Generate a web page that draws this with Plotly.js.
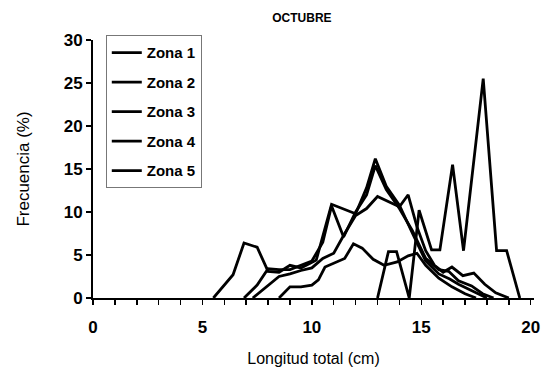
<!DOCTYPE html>
<html>
<head>
<meta charset="utf-8">
<script src="https://cdn.plot.ly/plotly-3.0.1.min.js"></script>
<style>html,body{margin:0;padding:0;background:#fff;}#chart{width:548px;height:382px;}</style>
</head>
<body>
<div id="chart"></div>
<script>
// Longitud total (cm) vs Frecuencia (%) — OCTUBRE
const zona1X = [5.5, 6.4, 6.9, 7.5, 8.0, 8.5, 9.0, 9.5, 9.9, 10.2, 10.9, 11.5, 12.0, 12.5, 12.9, 13.4, 14.0, 14.6, 15.2, 15.8, 16.3, 16.7, 17.2, 17.6, 18.0];
const zona1Y = [0, 2.7, 6.4, 5.9, 3.1, 3.0, 3.8, 3.5, 4.0, 4.4, 10.9, 10.3, 9.8, 12.8, 16.2, 13.0, 10.8, 7.5, 4.3, 2.8, 2.2, 1.6, 1.0, 0.5, 0];

const zona2X = [6.9, 7.5, 8.0, 8.5, 9.0, 9.5, 10.0, 10.5, 10.9, 11.45, 12.0, 12.5, 12.9, 13.4, 14.0, 14.6, 15.2, 15.8, 16.25, 16.7, 17.3, 17.8, 18.3];
const zona2Y = [0, 1.5, 3.4, 3.3, 3.3, 3.8, 4.3, 6.5, 10.7, 7.1, 10.0, 12.0, 15.4, 12.6, 10.4, 7.8, 4.6, 3.3, 3.1, 2.0, 1.4, 0.5, 0];

const zona3X = [7.3, 8.0, 8.5, 9.0, 9.5, 10.0, 10.5, 11.0, 11.5, 12.0, 12.5, 13.0, 13.5, 14.0, 14.4, 14.8, 15.2, 15.6, 16.0, 16.4, 16.9, 17.4, 17.9, 18.4, 19.0];
const zona3Y = [0, 1.5, 2.5, 2.8, 3.2, 3.5, 4.6, 5.2, 7.5, 9.6, 10.4, 11.8, 11.2, 10.6, 12.0, 8.3, 5.5, 3.8, 3.0, 3.6, 2.6, 2.9, 1.6, 0.6, 0];

const zona4X = [8.5, 9.0, 9.5, 10.0, 10.3, 10.6, 11.5, 11.9, 12.3, 12.8, 13.3, 13.9, 14.4, 14.8, 15.2, 15.8, 16.4, 17.0, 17.5];
const zona4Y = [0, 1.3, 1.3, 1.5, 2.1, 3.6, 4.6, 6.3, 5.8, 4.5, 3.8, 4.2, 4.9, 5.2, 3.8, 2.3, 1.3, 0.5, 0];

const zona5X = [13.0, 13.5, 13.87, 14.45, 14.9, 15.47, 15.85, 16.43, 16.93, 17.83, 18.44, 18.9, 19.5];
const zona5Y = [0, 5.4, 5.4, 0, 10.2, 5.6, 5.6, 15.5, 5.5, 25.5, 5.5, 5.5, 0];

const seriesNames = ['Zona 1', 'Zona 2', 'Zona 3', 'Zona 4', 'Zona 5'];
const seriesX = [zona1X, zona2X, zona3X, zona4X, zona5X];
const seriesY = [zona1Y, zona2Y, zona3Y, zona4Y, zona5Y];

const xTickVals = [0,1,2,3,4,5,6,7,8,9,10,11,12,13,14,15,16,17,18,19,20];
const xTickText = ['0','','','','','5','','','','','10','','','','','15','','','','','20'];
const yTickVals = [0, 5, 10, 15, 20, 25, 30];
const yTickText = ['0', '5', '10', '15', '20', '25', '30'];

const FONT = 'Liberation Sans, Arial, sans-serif';

const traces = seriesNames.map((name, i) => ({
  type: 'scatter',
  mode: 'lines',
  name: name,
  x: seriesX[i],
  y: seriesY[i],
  legendgroup: 'g' + i,
  line: {color: '#000', width: 2.8},
  hoverinfo: 'skip'
}));

const layout = {
  width: 548,
  height: 382,
  paper_bgcolor: '#fff',
  plot_bgcolor: '#fff',
  margin: {l: 93, r: 14, t: 40, b: 84},
  title: {
    text: 'OCTUBRE',
    font: {family: FONT, size: 12, color: '#000', weight: 'bold'},
    x: 0.551, xref: 'container', xanchor: 'center',
    y: 0.953, yref: 'container', yanchor: 'middle'
  },
  showlegend: true,
  legend: {
    x: 0.029, xanchor: 'left', y: 1.018, yanchor: 'top',
    bgcolor: '#fff', bordercolor: '#777', borderwidth: 1,
    font: {family: FONT, size: 15, color: '#000', weight: 'bold'},
    traceorder: 'grouped', tracegroupgap: 7,
    itemwidth: 30
  },
  xaxis: {
    range: [0, 20.15],
    tickmode: 'array', tickvals: xTickVals, ticktext: xTickText,
    ticks: 'outside', ticklen: 5, tickwidth: 1.5, tickcolor: '#000',
    showline: true, linecolor: '#000', linewidth: 2,
    showgrid: false, zeroline: false,
    tickfont: {family: FONT, size: 17, color: '#000', weight: 'bold'},
    ticklabelstandoff: 8,
    title: {text: 'Longitud total (cm)', font: {family: FONT, size: 16, color: '#000'}, standoff: 16}
  },
  yaxis: {
    range: [0, 30],
    tickmode: 'array', tickvals: yTickVals, ticktext: yTickText,
    ticks: 'outside', ticklen: 5, tickwidth: 1.5, tickcolor: '#000',
    showline: true, linecolor: '#000', linewidth: 2,
    showgrid: false, zeroline: false,
    tickfont: {family: FONT, size: 17, color: '#000', weight: 'bold'},
    title: {text: 'Frecuencia (%)', font: {family: FONT, size: 17, color: '#000'}, standoff: 30}
  }
};

Plotly.newPlot('chart', traces, layout, {displayModeBar: false, staticPlot: true});
</script>
</body>
</html>
